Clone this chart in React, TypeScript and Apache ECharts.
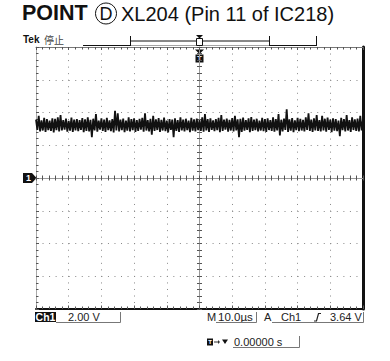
import React, { useEffect, useRef } from "react";
import * as echarts from "echarts";

// Scope settings
const timeRangeUs = [-50, 50]; // 10 div x 10.0 µs
const voltRange = [-8, 8]; // 8 div x 2.00 V
const timeDiv = 10;
const voltDiv = 2;

// Ch1 samples (volts): DC level ≈ 3.2 V with noise
const ch1Volts = [
  3.56, 2.94, 3.8, 2.84, 3.52, 2.9, 3.67, 2.81, 3.59, 2.93,
  3.51, 2.87, 3.64, 2.79, 3.61, 2.92, 3.7, 2.85, 3.85, 2.91,
  3.54, 2.96, 3.63, 2.83, 3.49, 2.89, 3.69, 2.82, 3.57, 2.9,
  3.6, 2.86, 3.53, 2.94, 3.66, 2.8, 3.58, 2.88, 3.71, 2.84,
  3.55, 2.5, 3.62, 2.9, 3.9, 2.83, 3.5, 2.95, 3.64, 2.87,
  3.57, 2.81, 3.68, 2.92, 3.52, 2.86, 3.6, 2.78, 4.1, 2.91,
  3.95, 2.85, 3.56, 2.93, 3.63, 2.8, 3.5, 2.89, 3.7, 2.84,
  3.59, 2.92, 3.65, 2.82, 3.54, 2.88, 3.61, 2.95, 3.67, 2.83,
  3.95, 2.9, 3.53, 2.84, 3.62, 2.65, 3.8, 2.87, 3.58, 2.93,
  3.66, 2.81, 3.55, 2.9, 3.69, 2.86, 3.51, 2.79, 3.6, 2.94,
  3.57, 2.5, 3.64, 2.88, 3.53, 2.82, 3.7, 2.91, 3.56, 2.85,
  3.62, 2.93, 3.5, 2.8, 3.67, 2.89, 3.58, 2.84, 3.63, 2.92,
  3.54, 2.87, 3.71, 2.83, 3.9, 2.9, 3.59, 2.81, 3.65, 2.94,
  3.52, 2.86, 3.6, 2.92, 3.68, 2.8, 3.85, 2.88, 3.56, 2.95,
  3.63, 2.83, 3.55, 2.9, 3.66, 2.85, 3.8, 2.91, 3.58, 2.5,
  3.61, 2.82, 3.69, 2.89, 3.53, 2.94, 3.64, 2.8, 3.72, 2.87,
  3.57, 2.92, 3.62, 2.84, 3.5, 2.9, 3.67, 2.86, 3.59, 2.81,
  3.65, 2.93, 3.54, 2.88, 3.7, 2.83, 3.6, 2.91, 3.9, 2.6,
  3.56, 2.85, 3.63, 2.94, 4.2, 2.82, 3.58, 2.89, 3.66, 2.8,
  3.52, 2.92, 3.68, 2.86, 3.61, 2.9, 3.55, 2.84, 3.7, 2.93,
  3.95, 2.87, 3.57, 2.81, 3.64, 2.91, 3.85, 2.88, 3.53, 2.85,
  3.8, 2.9, 3.62, 2.83, 3.69, 2.94, 3.56, 2.8, 3.65, 2.89,
  3.59, 2.86, 3.51, 2.55, 3.67, 2.92, 3.6, 2.84, 3.85, 2.9,
  3.54, 2.82, 3.71, 2.93, 3.58, 2.87, 3.63, 2.85, 3.8, 2.91,
  3.57,
];

// Texts
const titleBold = "POINT";
const titleCircled = "D";
const titleRest = "XL204 (Pin 11 of IC218)";
const statusTek = "Tek";
const statusRun = "停止";
const chLabel = "Ch1";
const chScale = "2.00 V";
const timeScale = "10.0µs";
const trigSource = "Ch1";
const trigLevel = "3.64 V";
const trigPos = "0.00000 s";

const SANS = "'Liberation Sans', Arial, Helvetica, sans-serif";

export default function App() {
  const ref = useRef<HTMLDivElement>(null);

  useEffect(() => {
    document.body.style.margin = "0";
    const chart = echarts.init(ref.current!, null, { renderer: "svg" });

    const n = ch1Volts.length - 1;
    const span = timeRangeUs[1] - timeRangeUs[0];
    const data = ch1Volts.map((v, i) => [timeRangeUs[0] + (i * span) / n, v]);

    const gridDots = { color: "#888", width: 1, type: [1, 5.54] as number[] };
    const tickStyle = { color: "#555", width: 1 };

    const xBase = { type: "value", min: timeRangeUs[0], max: timeRangeUs[1], interval: timeDiv, axisLabel: { show: false } };
    const yBase = { type: "value", min: voltRange[0], max: voltRange[1], interval: voltDiv, axisLabel: { show: false } };

    const line = (x1: number, y1: number, x2: number, y2: number, w = 1, c = "#111") => ({
      type: "line",
      shape: { x1, y1, x2, y2 },
      style: { stroke: c, lineWidth: w },
      silent: true,
    });
    const txt = (x: number, y: number, text: string, font: string, extra: any = {}) => ({
      type: "text",
      x,
      y,
      style: { text, font, fill: "#111", verticalAlign: "middle", align: "left", ...extra },
      silent: true,
    });

    chart.setOption({
      animation: false,
      backgroundColor: "#fff",
      grid: { left: 36, top: 47, width: 327, height: 262 },
      xAxis: [
        {
          ...xBase,
          position: "bottom",
          axisLine: { onZero: false, lineStyle: { color: "#111", width: 2 } },
          axisTick: { show: true, inside: true, length: 3.5, lineStyle: tickStyle },
          minorTick: { show: true, splitNumber: 5, length: 2.5, lineStyle: tickStyle },
          splitLine: { show: true, lineStyle: gridDots },
        },
        {
          ...xBase,
          position: "top",
          axisLine: { onZero: false, lineStyle: { color: "#777", width: 1 } },
          axisTick: { show: true, inside: true, length: 3, lineStyle: tickStyle },
          minorTick: { show: true, splitNumber: 5, length: 2.5, lineStyle: tickStyle },
          splitLine: { show: false },
        },
        {
          ...xBase,
          position: "bottom",
          axisLine: { onZero: true, lineStyle: { color: "#999", width: 1 } },
          axisTick: { show: true, inside: true, length: 2.5, lineStyle: tickStyle },
          minorTick: { show: true, splitNumber: 5, length: 2.5, lineStyle: tickStyle },
          splitLine: { show: false },
        },
        {
          ...xBase,
          position: "top",
          axisLine: { show: false, onZero: true },
          axisTick: { show: true, inside: true, length: 2.5, lineStyle: tickStyle },
          minorTick: { show: true, splitNumber: 5, length: 2.5, lineStyle: tickStyle },
          splitLine: { show: false },
        },
      ],
      yAxis: [
        {
          ...yBase,
          position: "left",
          axisLine: { onZero: false, lineStyle: { color: "#aaa", width: 1 } },
          axisTick: { show: true, inside: true, length: 3, lineStyle: tickStyle },
          minorTick: { show: true, splitNumber: 5, length: 2.5, lineStyle: tickStyle },
          splitLine: { show: true, lineStyle: gridDots },
        },
        {
          ...yBase,
          position: "right",
          axisLine: { onZero: false, lineStyle: { color: "#111", width: 3 } },
          axisTick: { show: false },
          splitLine: { show: false },
        },
        {
          ...yBase,
          position: "left",
          axisLine: { onZero: true, lineStyle: { color: "#999", width: 1 } },
          axisTick: { show: true, inside: true, length: 2.5, lineStyle: tickStyle },
          minorTick: { show: true, splitNumber: 5, length: 2.5, lineStyle: tickStyle },
          splitLine: { show: false },
        },
        {
          ...yBase,
          position: "right",
          axisLine: { show: false, onZero: true },
          axisTick: { show: true, inside: true, length: 2.5, lineStyle: tickStyle },
          minorTick: { show: true, splitNumber: 5, length: 2.5, lineStyle: tickStyle },
          splitLine: { show: false },
        },
      ],
      series: [
        {
          type: "line",
          xAxisIndex: 0,
          yAxisIndex: 0,
          data,
          showSymbol: false,
          symbol: "none",
          lineStyle: { color: "#111", width: 1.8 },
          z: 5,
        },
      ],
      graphic: [
        // Title
        txt(22, 13, titleBold, `bold 21.5px ${SANS}`),
        { type: "circle", shape: { cx: 106, cy: 13.5, r: 10.5 }, style: { fill: "none", stroke: "#111", lineWidth: 1 }, silent: true },
        txt(106, 14, titleCircled, `18px ${SANS}`, { align: "center" }),
        txt(121, 13.5, titleRest, `20px ${SANS}`),
        // Status
        txt(23, 39.5, statusTek, `bold 10px ${SANS}`),
        txt(44, 39.5, statusRun, `10px 'Noto Sans CJK SC', sans-serif`, { fill: "#444" }),
        // Record bar
        line(83, 45.5, 130, 45.5),
        line(269, 45.5, 316, 45.5),
        line(130, 41, 269, 41),
        line(130, 45.5, 269, 45.5, 0.6, "#666"),
        line(130.5, 36, 130.5, 46),
        line(269.5, 36, 269.5, 46),
        line(316.5, 36, 316.5, 46),
        { type: "rect", shape: { x: 196.5, y: 38.5, width: 6, height: 7 }, style: { fill: "#fff", stroke: "#111", lineWidth: 1 }, silent: true },
        { type: "polygon", shape: { points: [[196, 35], [203, 35], [199.5, 38.5]] }, style: { fill: "#111" }, silent: true },
        // Trigger position marker
        { type: "polygon", shape: { points: [[195, 49.5], [204, 49.5], [199.5, 54]] }, style: { fill: "#111" }, silent: true },
        { type: "rect", shape: { x: 195.5, y: 54.5, width: 8, height: 8 }, style: { fill: "#111" }, silent: true },
        txt(199.5, 58.8, "T", `bold 8px ${SANS}`, { fill: "#fff", align: "center" }),
        // Ground marker for Ch1
        { type: "polygon", shape: { points: [[23, 173], [32, 173], [36.5, 178], [32, 183], [23, 183]] }, style: { fill: "#111" }, silent: true },
        txt(28.5, 178.3, "1", `bold 9px ${SANS}`, { fill: "#fff", align: "center" }),
        // Bottom readouts
        { type: "rect", shape: { x: 35, y: 312, width: 21, height: 10 }, style: { fill: "#111" }, silent: true },
        txt(45.5, 317.3, chLabel, `bold 10.5px ${SANS}`, { fill: "#fff", align: "center" }),
        txt(68, 317, chScale, `11px ${SANS}`, { fill: "#222" }),
        { type: "polyline", shape: { points: [[56, 322.5], [120.5, 322.5], [120.5, 312]] }, style: { stroke: "#777", lineWidth: 1, fill: "none" }, silent: true },
        txt(207, 317, "M", `11px ${SANS}`, { fill: "#222" }),
        txt(218, 317, timeScale, `11.5px ${SANS}`, { fill: "#222" }),
        { type: "polyline", shape: { points: [[216, 322.5], [256.5, 322.5], [256.5, 312]] }, style: { stroke: "#777", lineWidth: 1, fill: "none" }, silent: true },
        txt(264, 317, "A", `11px ${SANS}`, { fill: "#222" }),
        txt(281, 317, trigSource, `11px ${SANS}`, { fill: "#222" }),
        { type: "polyline", shape: { points: [[314, 321], [316.5, 321], [318.5, 313.5], [321, 313.5]] }, style: { stroke: "#222", lineWidth: 1.2, fill: "none" }, silent: true },
        txt(330, 317, trigLevel, `11px ${SANS}`, { fill: "#222" }),
        { type: "polyline", shape: { points: [[272, 322.5], [363.5, 322.5], [363.5, 312]] }, style: { stroke: "#777", lineWidth: 1, fill: "none" }, silent: true },
        // Trigger position readout
        { type: "rect", shape: { x: 207, y: 338.5, width: 6, height: 7 }, style: { fill: "#111" }, silent: true },
        txt(210, 342.3, "T", `bold 6px ${SANS}`, { fill: "#fff", align: "center" }),
        line(214, 342, 219, 342, 1, "#333"),
        { type: "polygon", shape: { points: [[218, 340], [220, 342], [218, 344]] }, style: { fill: "#333" }, silent: true },
        { type: "polygon", shape: { points: [[222, 339.5], [228, 339.5], [225, 344]] }, style: { fill: "#111" }, silent: true },
        txt(234, 342, trigPos, `11px ${SANS}`, { fill: "#222" }),
        { type: "polyline", shape: { points: [[233, 347.5], [299.5, 347.5], [299.5, 336]] }, style: { stroke: "#777", lineWidth: 1, fill: "none" }, silent: true },
      ],
    });

    return () => chart.dispose();
  }, []);

  return <div ref={ref} style={{ width: 390, height: 361 }} />;
}
